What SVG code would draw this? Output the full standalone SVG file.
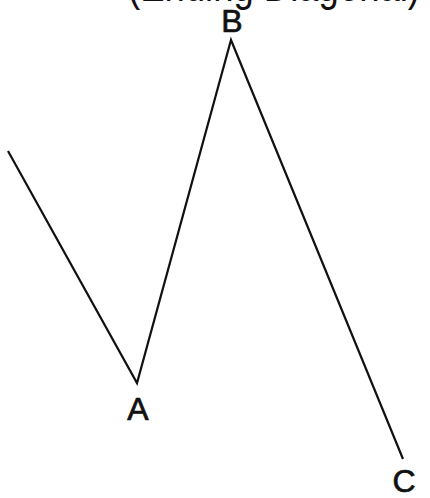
<svg xmlns="http://www.w3.org/2000/svg" width="430" height="498" viewBox="0 0 430 498">
<style>
.lbl{font-family:"Liberation Sans",Arial,sans-serif;font-size:32px;fill:#111;stroke:#111;stroke-width:0.7;text-anchor:middle}
.cap{font-family:"Liberation Sans",Arial,sans-serif;font-size:44px;fill:#111}
.wave{fill:none;stroke:#111;stroke-width:2.2;stroke-linejoin:miter}
</style>
<rect width="430" height="498" fill="#fff"/>
<text class="cap" x="128" y="1" textLength="292" lengthAdjust="spacingAndGlyphs">(Ending Diagonal)</text>
<g id="connectors">
<polyline class="wave" points="8,151 137,383 231,40 403,459"/>
</g>
<g id="A"><text class="lbl" x="138" y="420">A</text></g>
<g id="B"><text class="lbl" x="232" y="32">B</text></g>
<g id="C"><text class="lbl" x="404" y="492">C</text></g>
</svg>
